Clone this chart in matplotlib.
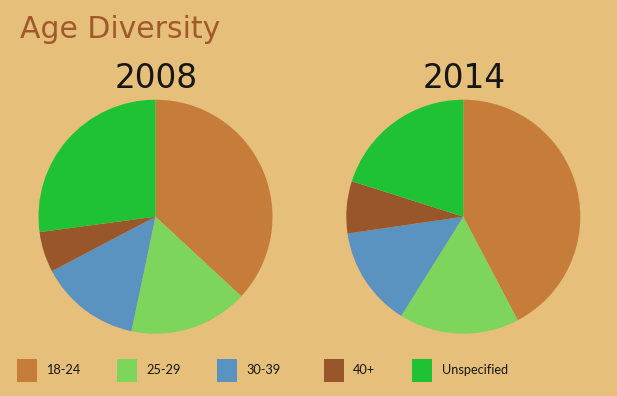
import matplotlib
matplotlib.use("Agg")
import matplotlib.pyplot as plt
from matplotlib.patches import Rectangle

categories = ["18-24", "25-29", "30-39", "40+", "Unspecified"]
years = ["2008", "2014"]
shares_2008 = [36.9, 16.4, 14.0, 5.6, 27.1]
shares_2014 = [42.3, 16.6, 13.8, 7.2, 20.1]

_BG = "#e6c07a"
_TITLE = "#a0592b"
_TEXT = "#161616"
colors = ["#c77d3a", "#7ed55c", "#5b93c0", "#99562a", "#1fc234"]

W, H = 617, 396
fig = plt.figure(figsize=(W / 100, H / 100), dpi=100)
fig.patch.set_facecolor(_BG)

# full-figure overlay in pixel coordinates for text and legend
over = fig.add_axes([0, 0, 1, 1])
over.set_xlim(0, W)
over.set_ylim(H, 0)
over.axis("off")

over.text(20, 38, "Age Diversity", color=_TITLE, fontsize=21.5,
          family="DejaVu Sans", ha="left", va="baseline")

centers = [(155.5, 216.7), (463.3, 216.7)]
radius = 117
for (cx, cy), year, vals in zip(centers, years, [shares_2008, shares_2014]):
    ax = fig.add_axes([(cx - radius) / W, (H - cy - radius) / H,
                       2 * radius / W, 2 * radius / H])
    ax.pie(vals, colors=colors, startangle=90, counterclock=False,
           wedgeprops=dict(linewidth=0))
    ax.set_xlim(-1, 1)
    ax.set_ylim(-1, 1)
    ax.axis("off")
    over.text(cx + 1, 88, year, color=_TEXT, fontsize=23.5,
              family="DejaVu Sans", ha="center", va="baseline")

sq_x = [17, 117, 217, 324, 412]
txt_x = [46, 146, 246, 353, 442]
for sx, tx, lab, col in zip(sq_x, txt_x, categories, colors):
    over.add_patch(Rectangle((sx, 359), 19.5, 22.5, color=col, lw=0))
    over.text(tx, 370.5, lab, color=_TEXT, fontsize=9.2, family="Lato",
              ha="left", va="center")

fig.savefig("out.png", facecolor=fig.get_facecolor(), dpi=100)
